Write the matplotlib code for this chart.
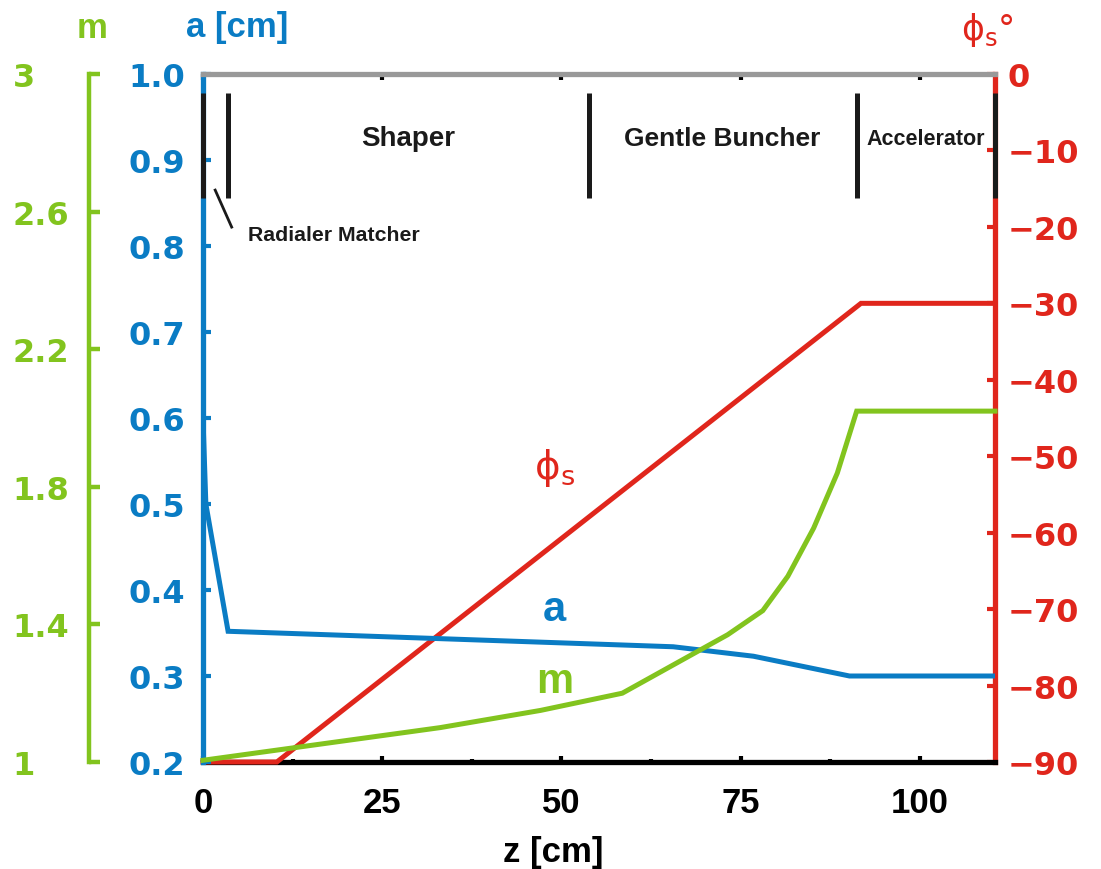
import matplotlib
matplotlib.use('Agg')
import matplotlib.pyplot as plt
from matplotlib.ticker import MultipleLocator

# values
z_a = [0, 0.4, 3.5, 65.6, 76.8, 90.2, 110.5]
a_cm = [0.60, 0.50, 0.352, 0.334, 0.323, 0.300, 0.300]

z_phi = [0, 10.3, 91.8, 110.5]
phi_s = [-90, -90, -30, -30]

z_m = [0, 33.1, 47.1, 58.5, 73.2, 78.1, 81.6, 85.2, 88.5, 91.2, 110.5]
m_val = [1.005, 1.10, 1.15, 1.20, 1.37, 1.44, 1.54, 1.68, 1.84, 2.02, 2.02]

section_names = ['Shaper', 'Gentle Buncher', 'Accelerator']
section_bounds = [0, 3.5, 53.8, 91.2, 110.5]

z_ticks = [0, 25, 50, 75, 100]
a_ticks = [0.2, 0.3, 0.4, 0.5, 0.6, 0.7, 0.8, 0.9, 1.0]
phi_ticks = [0, -10, -20, -30, -40, -50, -60, -70, -80, -90]
m_ticks = [1, 1.4, 1.8, 2.2, 2.6, 3]

BLUE = '#0a7cc4'
RED = '#e0261c'
GREEN = '#82c41e'
GRAY = '#999999'

numfont = dict(family='DejaVu Sans', weight='bold', size=23)

fig = plt.figure(figsize=(11.01, 8.70), dpi=100)
ax = fig.add_axes([203/1101, 1-763/870, 792/1101, 688/870])
ax2 = ax.twinx()
ax3 = ax.twinx()
ax2.set_zorder(1)
ax.set_zorder(2)
ax3.set_zorder(3)
ax.patch.set_visible(False)
ax3.patch.set_visible(False)

# curves
ax2.plot(z_phi, phi_s, color=RED, linewidth=3.6, solid_joinstyle='miter', zorder=3, clip_on=False)
ax.plot(z_a, a_cm, color=BLUE, linewidth=3.6, solid_joinstyle='miter')
ax3.plot(z_m, m_val, color=GREEN, linewidth=3.6, solid_joinstyle='miter', clip_on=False)

ax.set_xlim(0, 110.5)
ax.set_ylim(0.2, 1.0)
ax2.set_ylim(-90, 0)
ax3.set_ylim(1, 3)

# main axes: blue left, gray top; black bottom spine sits under the red curve
for s in ['left', 'top']:
    ax.spines[s].set_linewidth(3.8)
ax.spines['left'].set_color(BLUE)
ax.spines['top'].set_color(GRAY)
ax.spines['right'].set_visible(False)
ax.spines['bottom'].set_visible(False)

ax.set_xticks(z_ticks)
ax.set_xticklabels([str(v) for v in z_ticks], family='Liberation Sans', weight='bold', size=25)
ax.xaxis.set_minor_locator(MultipleLocator(12.5))
ax.tick_params(axis='x', which='both', direction='in', top=True, length=4, width=3,
               color='black', pad=17)
for t in ax.xaxis.get_major_ticks() + ax.xaxis.get_minor_ticks():
    t.tick2line.set_color(GRAY)
for t in ax.xaxis.get_minor_ticks():
    t.tick1line.set_markersize(2)
    t.tick2line.set_markersize(2)

ax.set_yticks(a_ticks)
ax.set_yticklabels(['%.1f' % v for v in a_ticks], color=BLUE, **numfont)
ax.tick_params(axis='y', direction='in', length=6, width=3, color=BLUE, pad=13)

# red axis on the right (also carries the black bottom line)
for s in ['left', 'top']:
    ax2.spines[s].set_visible(False)
ax2.spines['bottom'].set_visible(True)
ax2.spines['bottom'].set_color('black')
ax2.spines['bottom'].set_linewidth(3.8)
ax2.spines['right'].set_color(RED)
ax2.spines['right'].set_linewidth(3.8)
ax2.set_yticks(phi_ticks)
ax2.set_yticklabels([str(v).replace('-', '\u2212') for v in phi_ticks], color=RED, **numfont)
ax2.tick_params(axis='y', direction='in', length=6, width=3, color=RED, pad=9)

# green axis further left
for s in ['right', 'bottom', 'top']:
    ax3.spines[s].set_visible(False)
ax3.spines['left'].set_visible(True)
ax3.spines['left'].set_position(('axes', (89 - 203) / 792))
ax3.spines['left'].set_color(GREEN)
ax3.spines['left'].set_linewidth(3.2)
ax3.yaxis.set_ticks_position('left')
ax3.yaxis.set_label_position('left')
ax3.set_yticks(m_ticks)
ax3.set_yticklabels([('%g' % v) for v in m_ticks], color=GREEN, **numfont)
ax3.tick_params(axis='y', direction='in', length=8, width=3.2, color=GREEN, pad=55)
for lab in ax3.get_yticklabels():
    lab.set_horizontalalignment('left')

# section markers at the top
ax.vlines(section_bounds, 0.856, 0.978, color='#1a1a1a', linewidth=3.6, zorder=5, clip_on=False)
sizes = {'Shaper': 20, 'Gentle Buncher': 19, 'Accelerator': 15.5}
for i, name in enumerate(section_names):
    zc = (section_bounds[i + 1] + section_bounds[i + 2]) / 2
    ax.text(zc, 0.925, name, ha='center', va='center', family='Liberation Sans',
            weight='bold', size=sizes[name], color='#1a1a1a')
ax.plot([1.7, 4.0], [0.865, 0.822], color='#1a1a1a', linewidth=2)
ax.text(6.3, 0.813, 'Radialer Matcher', ha='left', va='center', family='Liberation Sans',
        weight='bold', size=15.3, color='#1a1a1a')

# curve labels
ax.text(49, 0.378, 'a', ha='center', va='center', color=BLUE, family='Liberation Sans',
        weight='bold', size=30)
ax.text(49, 0.294, 'm', ha='center', va='center', color=GREEN, family='Liberation Sans',
        weight='bold', size=30)
ax.text(49, 0.543, r'$\mathregular{\phi_s}$', ha='center', va='center', color=RED, size=28)

# axis titles
fig.text(237/1101, 1-28/870, 'a [cm]', ha='center', va='center', color=BLUE,
         family='Liberation Sans', weight='bold', size=25)
fig.text(92/1101, 1-28/870, 'm', ha='center', va='center', color=GREEN,
         family='Liberation Sans', weight='bold', size=25)
fig.text(987/1101, 1-30/870, r'$\mathregular{\phi_s}$°', ha='center', va='center', color=RED,
         size=25)
fig.text(553/1101, 1-853/870, 'z [cm]', ha='center', va='center', color='black',
         family='Liberation Sans', weight='bold', size=25)

fig.savefig('out.png', dpi=100)
